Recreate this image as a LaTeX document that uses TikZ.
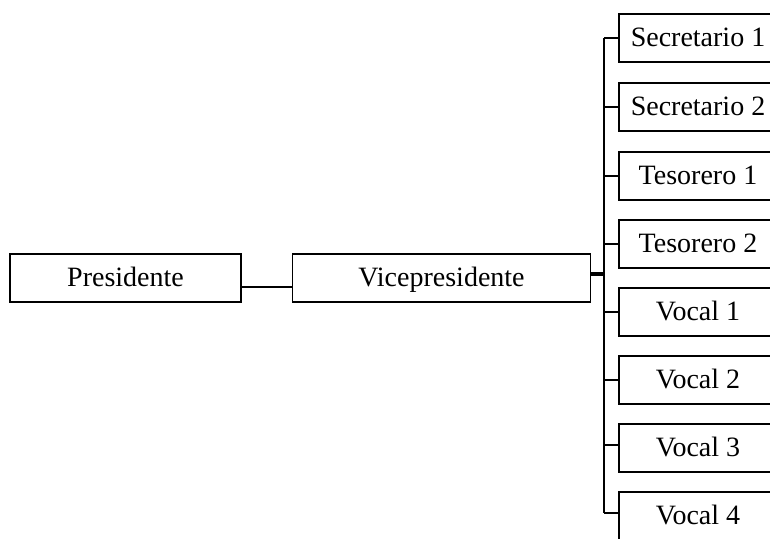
\documentclass[tikz,border=0pt]{standalone}
\usepackage{fontspec}
\setmainfont{Liberation Serif}
\begin{document}
\begin{tikzpicture}[x=1pt,y=-1pt,
  box/.style={draw, line width=1.8pt, rectangle, minimum height=48pt, inner sep=0pt,
    text height=32pt, text depth=16pt,
    font=\fontsize{28}{30}\selectfont},
  lbox/.style={box, minimum width=231pt},
  vbox/.style={box, minimum width=298pt},
  rbox/.style={box, minimum width=158pt},
  conn/.style={line width=1.4pt},
  stub/.style={line width=4.5pt}]
\clip (0,0) rectangle (770,538);
\fill[white] (0,0) rectangle (770,538);
\node[lbox] (pres) at (125.5,278) {Presidente};
\node[vbox] (vp) at (441.5,278) {Vicepresidente};
\node[rbox] (s1) at (698,38) {Secretario 1};
\node[rbox] (s2) at (698,107) {Secretario 2};
\node[rbox] (t1) at (698,176) {Tesorero 1};
\node[rbox] (t2) at (698,244) {Tesorero 2};
\node[rbox] (v1) at (698,312) {Vocal 1};
\node[rbox] (v2) at (698,380) {Vocal 2};
\node[rbox] (v3) at (698,448) {Vocal 3};
\node[rbox] (v4) at (698,516) {Vocal 4};
\coordinate (bx) at (604,0);
\draw[conn] ([yshift=-9pt]pres.east) -- ([yshift=-9pt]vp.west);
\draw[stub] ([yshift=4pt]vp.east) -- ([yshift=4pt]vp.east -| bx);
\draw[conn] (s1.west -| bx) -- ([yshift=3pt]v4.west -| bx);
\foreach \n in {s1,s2,t1,t2,v1,v2}{
  \draw[conn] (\n.west) -- (\n.west -| bx);
}
\draw[conn] ([yshift=3pt]v3.west) -- ([yshift=3pt]v3.west -| bx);
\draw[conn] ([yshift=3pt]v4.west) -- ([yshift=3pt]v4.west -| bx);
\end{tikzpicture}
\end{document}
